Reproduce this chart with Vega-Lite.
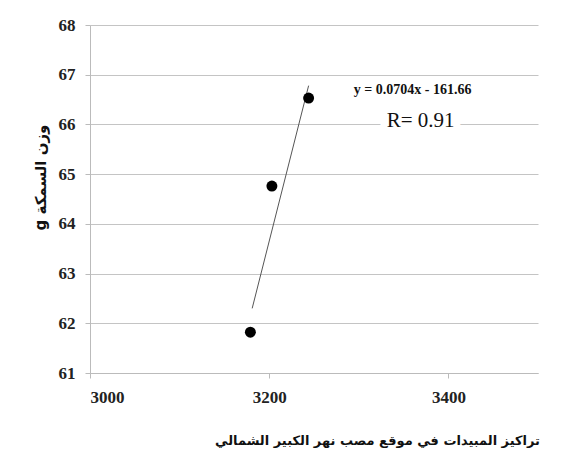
{
  "$schema": "https://vega.github.io/schema/vega-lite/v6.json",
  "width": 448,
  "height": 348,
  "autosize": "none",
  "padding": {"left": 90, "top": 25, "right": 26, "bottom": 83},
  "background": "white",
  "config": {
    "view": {"stroke": null},
    "font": "Liberation Serif"
  },
  "datasets": {
    "points": [
      {"conc": 3179, "weight": 61.82},
      {"conc": 3203, "weight": 64.76},
      {"conc": 3244, "weight": 66.53}
    ],
    "trend": [
      {"conc": 3181, "weight": 62.3},
      {"conc": 3244, "weight": 66.78}
    ],
    "labels": [
      {"conc": 3360, "weight": 66.69, "label": "y = 0.0704x - 161.66", "kind": "eq"},
      {"conc": 3369, "weight": 66.07, "label": "R= 0.91", "kind": "r"}
    ]
  },
  "encoding": {
    "x": {
      "field": "conc",
      "type": "quantitative",
      "scale": {"domain": [3000, 3500], "nice": false, "zero": false},
      "axis": {
        "values": [3000, 3200, 3400],
        "format": "d",
        "title": "تراكيز المبيدات في موقع  مصب نهر الكبير الشمالي",
        "titleFont": "DejaVu Sans",
        "titleFontSize": 13,
        "titleFontWeight": "bold",
        "titleColor": "#111",
        "titleX": 287,
        "titleY": 67,
        "titleAlign": "center",
        "titleBaseline": "middle",
        "labelFont": "Liberation Serif",
        "labelFontSize": 17,
        "labelFontWeight": "bold",
        "labelColor": "#222",
        "labelPadding": 11,
        "tickSize": 5,
        "tickColor": "#bbb",
        "domainColor": "#bbb",
        "grid": false
      }
    },
    "y": {
      "field": "weight",
      "type": "quantitative",
      "scale": {"domain": [61, 68], "nice": false, "zero": false},
      "axis": {
        "values": [61, 62, 63, 64, 65, 66, 67, 68],
        "format": "d",
        "title": "g وزن السمكة",
        "titleFont": "DejaVu Sans",
        "titleFontSize": 15,
        "titleFontWeight": "bold",
        "titleColor": "#111",
        "titleX": -50,
        "titleY": 152,
        "titleAlign": "center",
        "titleBaseline": "middle",
        "titleAngle": -90,
        "labelFont": "Liberation Serif",
        "labelFontSize": 17,
        "labelFontWeight": "bold",
        "labelColor": "#222",
        "labelPadding": 10,
        "tickSize": 5,
        "tickColor": "#bbb",
        "domainColor": "#bbb",
        "grid": true,
        "gridColor": "#c4c4c4",
        "gridWidth": 1
      }
    }
  },
  "layer": [
    {
      "data": {"name": "trend"},
      "mark": {"type": "line", "color": "#555", "strokeWidth": 1}
    },
    {
      "data": {"name": "points"},
      "mark": {"type": "circle", "color": "black", "opacity": 1, "size": 120}
    },
    {
      "data": {"name": "labels"},
      "transform": [{"filter": "datum.kind == 'eq'"}],
      "mark": {"type": "text", "font": "Liberation Serif", "fontSize": 14, "fontWeight": "bold", "color": "#111", "align": "center", "baseline": "middle"},
      "encoding": {"text": {"field": "label"}}
    },
    {
      "data": {"name": "labels"},
      "transform": [{"filter": "datum.kind == 'r'"}],
      "mark": {"type": "text", "font": "Liberation Serif", "fontSize": 21, "color": "white", "stroke": "white", "strokeWidth": 14, "align": "center", "baseline": "middle"},
      "encoding": {"text": {"field": "label"}}
    },
    {
      "data": {"name": "labels"},
      "transform": [{"filter": "datum.kind == 'r'"}],
      "mark": {"type": "text", "font": "Liberation Serif", "fontSize": 21, "color": "#111", "align": "center", "baseline": "middle"},
      "encoding": {"text": {"field": "label"}}
    }
  ]
}
